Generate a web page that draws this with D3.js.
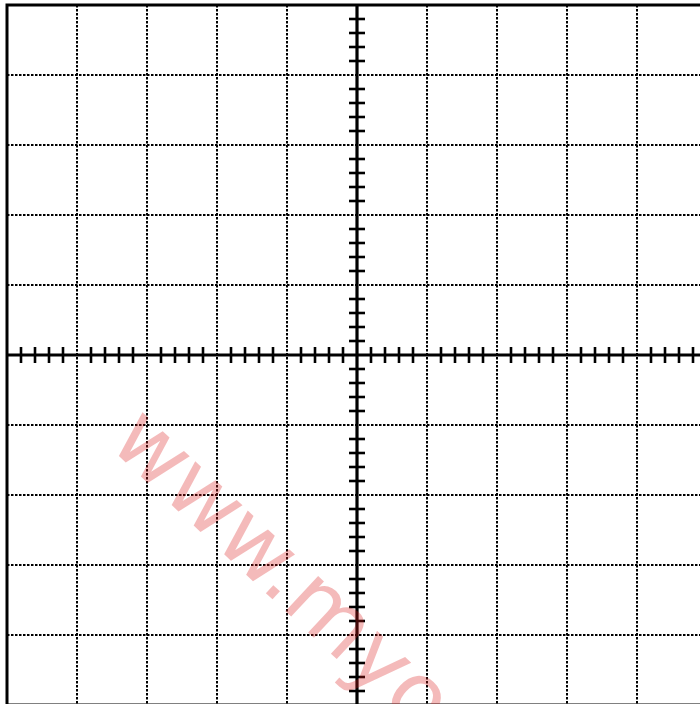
<!DOCTYPE html>
<html>
<head>
<meta charset="utf-8">
<script src="https://cdn.jsdelivr.net/npm/d3@7"></script>
<style>
  html, body { margin: 0; padding: 0; background: #fff; overflow: hidden; }
  svg { display: block; }
</style>
</head>
<body>
<div id="chart"></div>
<script>
// grid layout: 10 x 10 divisions, 5 minor steps per division
const divisions = [-5, -4, -3, -2, -1, 0, 1, 2, 3, 4, 5];
const minorPerDivision = 5;
const watermark = 'www.myoscilloscope.com';

const width = 700, height = 704;
const svg = d3.select('#chart').append('svg').attr('width', width).attr('height', height);

// screen is 700 px square, starting a little right/down from the corner
const x = d3.scaleLinear().domain([-5, 5]).range([7, 707]);
const y = d3.scaleLinear().domain([-5, 5]).range([705, 5]);

// minor tick positions, skip the ones sitting on a major line
const minor = d3.range(-5 * minorPerDivision, 5 * minorPerDivision + 1)
  .map((i) => i / minorPerDivision)
  .filter((v) => Math.abs(v - Math.round(v)) > 1e-6);

// dotted grid
svg.append('g')
  .selectAll('line')
  .data(divisions)
  .enter()
  .append('line')
  .attr('x1', (d) => x(d)).attr('x2', (d) => x(d))
  .attr('y1', y(5)).attr('y2', y(-5))
  .attr('stroke', '#000')
  .attr('stroke-width', 2)
  .attr('stroke-dasharray', '2.5,1.5');

svg.append('g')
  .selectAll('line')
  .data(divisions)
  .enter()
  .append('line')
  .attr('y1', (d) => y(d)).attr('y2', (d) => y(d))
  .attr('x1', x(-5)).attr('x2', x(5))
  .attr('stroke', '#000')
  .attr('stroke-width', 2)
  .attr('stroke-dasharray', '2.5,1.5');

// outer frame
svg.append('rect')
  .attr('x', x(-5)).attr('y', y(5))
  .attr('width', x(5) - x(-5)).attr('height', y(-5) - y(5))
  .attr('fill', 'none')
  .attr('stroke', '#000')
  .attr('stroke-width', 3);

// center axes
svg.append('line')
  .attr('x1', x(-5)).attr('x2', x(5))
  .attr('y1', y(0)).attr('y2', y(0))
  .attr('stroke', '#000').attr('stroke-width', 3.2);
svg.append('line')
  .attr('x1', x(0)).attr('x2', x(0))
  .attr('y1', y(5)).attr('y2', y(-5))
  .attr('stroke', '#000').attr('stroke-width', 3.2);

const tickLen = 8;
svg.append('g')
  .selectAll('line')
  .data(minor)
  .enter()
  .append('line')
  .attr('x1', (d) => x(d)).attr('x2', (d) => x(d))
  .attr('y1', y(0) - tickLen).attr('y2', y(0) + tickLen)
  .attr('stroke', '#000').attr('stroke-width', 2.6);

svg.append('g')
  .selectAll('line')
  .data(minor)
  .enter()
  .append('line')
  .attr('y1', (d) => y(d)).attr('y2', (d) => y(d))
  .attr('x1', x(0) - tickLen).attr('x2', x(0) + tickLen)
  .attr('stroke', '#000').attr('stroke-width', 2.6);

// watermark on top, semi transparent
svg.append('text')
  .attr('transform', 'translate(107,445) rotate(43)')
  .attr('font-family', 'DejaVu Sans, sans-serif')
  .attr('font-size', 88)
  .attr('fill', 'rgb(220,30,30)')
  .attr('opacity', 0.3)
  .text(watermark);
</script>
</body>
</html>
